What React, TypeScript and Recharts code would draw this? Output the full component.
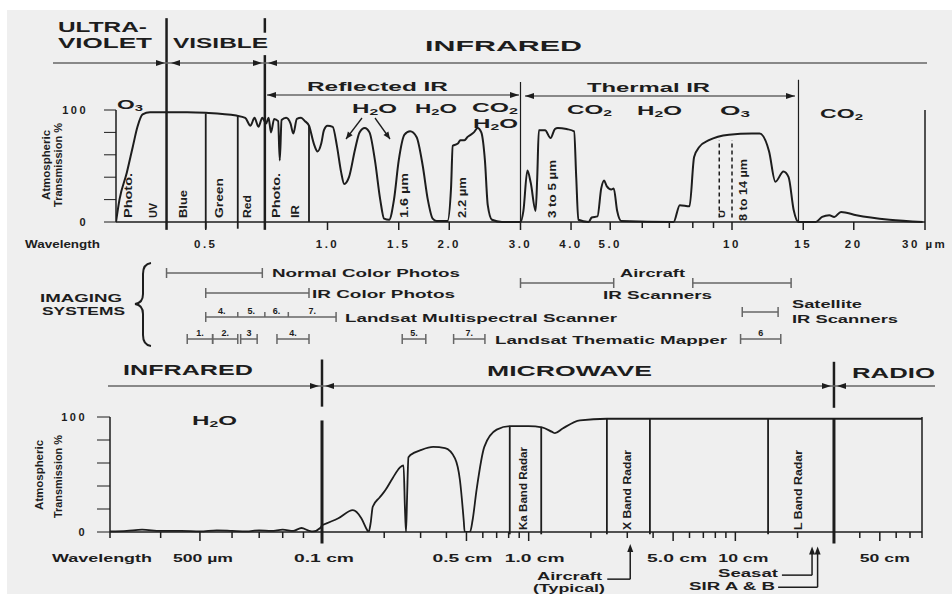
import React from 'react';
import { ComposedChart, Line, XAxis, YAxis, ReferenceLine, ReferenceDot } from 'recharts';

const INK = '#1d1d1d';
const GREY = '#666';
const FONT = '"Liberation Sans", Arial, Helvetica, sans-serif';

// ---------- top panel: atmospheric transmission 0.3 - 30 µm ----------
const topWavelength = [
  0.3, 0.306, 0.319, 0.33, 0.339, 0.349, 0.364, 0.45, 0.5, 0.595, 0.626, 0.645, 0.66, 0.675, 0.69, 0.705,
  0.715, 0.725, 0.738, 0.755, 0.762, 0.77, 0.79, 0.81, 0.823, 0.84, 0.86, 0.88, 0.9, 0.925, 0.945, 0.965,
  0.98, 1.0, 1.03, 1.055, 1.08, 1.1, 1.13, 1.17, 1.2, 1.236, 1.27, 1.31, 1.35, 1.38, 1.42, 1.46, 1.5, 1.55,
  1.6, 1.66, 1.72, 1.77, 1.82, 1.86, 1.98, 2.02, 2.04, 2.1, 2.13, 2.18, 2.22, 2.3, 2.35, 2.4, 2.45, 2.49,
  2.55, 2.7, 3.0, 3.05, 3.12, 3.18, 3.27, 3.3, 3.33, 3.45, 3.56, 3.65, 3.71, 3.9, 4.07, 4.12, 4.17, 4.42,
  4.5, 4.65, 4.75, 4.83, 4.9, 5.03, 5.1, 5.2, 5.32, 7.17, 7.43, 7.85, 8.06, 8.3, 8.77, 9.83, 11.2, 11.7,
  12.35, 12.8, 13.4, 13.8, 14.2, 14.6, 16.1, 16.7, 17.4, 17.9, 18.6, 20.3, 24.5, 29.6,
];
const topTransmission = [
  0, 20, 44, 67, 85, 96, 98, 98, 97.5, 95, 93, 86, 93, 85, 93, 88,
  93, 80, 92, 90, 55, 91, 93, 88, 79, 92, 93, 90, 86, 70, 63, 70,
  82, 86, 85, 68, 45, 34, 40, 65, 80, 84, 80, 55, 20, 3, 2, 20, 55, 78,
  81, 76, 50, 20, 3, 1, 1, 30, 68, 70, 73, 73, 76, 80, 84, 80, 55, 15,
  2, 0, 0, 10, 46, 35, 10, 40, 82, 82, 75, 83, 84, 83, 81, 40, 2, 0,
  4, 5, 30, 37, 32, 29, 30, 10, 1, 0, 15, 14, 58, 67, 73, 78, 79, 79,
  63, 36, 45, 40, 11, 0, 0, 4.5, 6, 4.5, 9, 6, 2, 0,
];
const topTicks = [0.5, 1, 1.5, 2, 3, 4, 5, 6, 7, 8, 9, 10, 15, 20, 30];
const topTickLabels = ['0.5', '1.0', '1.5', '2.0', '3.0', '4.0', '5.0', '', '', '', '', '10', '15', '20', '30 µm'];

// ---------- imaging systems (µm) ----------
const normalColorPhotos = [0.4, 0.69];
const irColorPhotos = [0.5, 0.9];
const mssEdges = [0.5, 0.6, 0.7, 0.8, 1.05];
const mssBandNames = ['4.', '5.', '6.', '7.'];
const tmBands = [[0.45, 0.52], [0.52, 0.6], [0.61, 0.67], [0.75, 0.9], [1.53, 1.75], [2.05, 2.45], [10.5, 13.2]];
const tmBandNames = ['1.', '2.', '3', '4.', '5.', '7.', '6'];
const aircraftIR = [[3.0, 5.1], [8.0, 14.0]];
const satelliteIR = [10.6, 13.0];

// ---------- bottom panel (cm) ----------
const farIrWavelength = [0.03, 0.033, 0.036, 0.04, 0.045, 0.05, 0.055, 0.06, 0.065, 0.07, 0.075, 0.08, 0.085, 0.089, 0.093, 0.095, 0.099, 0.1];
const farIrTransmission = [0.5, 1, 2, 1, 1, 0.5, 1.5, 1, 0.5, 1.5, 1, 2, 1, 3.5, 1, 0.5, 3.5, 6];
const microWavelength = [
  0.1, 0.12, 0.141, 0.155, 0.165, 0.168, 0.172, 0.176, 0.19, 0.202, 0.22, 0.238, 0.248, 0.252, 0.255, 0.258,
  0.262, 0.28, 0.298, 0.345, 0.394, 0.44, 0.465, 0.485, 0.49, 0.52, 0.535, 0.56, 0.61, 0.7, 0.81, 1.0, 1.16,
  1.3, 1.34, 1.46, 1.77, 2.39, 80,
];
const microTransmission = [
  6, 12, 19, 12, 2, 0, 8, 22, 30, 36, 47, 56, 58, 20, 0, 30,
  65, 69, 71, 74, 73, 64, 45, 10, 0, 0, 10, 37, 74, 89, 92, 92, 91,
  87, 86, 90, 97, 98.5, 98.5,
];
const farIrTicks = [0.03, 0.04, 0.05, 0.06, 0.07, 0.08, 0.09];
const farIrTickLabels = ['', '', '500 µm', '', '', '', ''];
const microTicks = [0.1, 0.2, 0.3, 0.4, 0.5, 0.6, 0.7, 0.8, 0.9, 1, 2, 3, 4, 5, 6, 7, 8, 9, 10, 20, 30, 40, 50, 60, 70, 80];
const microTickLabels = ['0.1 cm', '', '', '', '0.5 cm', '', '', '', '', '1.0 cm', '', '', '', '5.0 cm', '', '', '', '', '10 cm', '', '', '', '50 cm', '', '', ''];
const kaBand = [0.81, 1.15];
const xBand = [2.39, 3.86];
const lBand = [14.4, 30];
const aircraftRadar = 3.1;
const seasat = 23.5;
const sirAB = 25;

const zip = (xs: number[], ys: number[]) => xs.map((w, i) => ({ w, t: ys[i] }));
const topData = zip(topWavelength, topTransmission);
const farIrData = zip(farIrWavelength, farIrTransmission);
const microData = zip(microWavelength, microTransmission);

// lanes of the imaging-systems strip (px below its top)
const LANE = { normal: 18, aircraft: 28, irColor: 38, satellite: 57, mss: 62, tm: 84 };

// label nudges for the bottom axis (the scan's labels sit a little off their ticks)
const BOTTOM_NUDGE: Record<string, number> = { '500 µm': 3, '0.1 cm': 2, '0.5 cm': -4, '1.0 cm': 6, '5.0 cm': 4, '10 cm': 8, '50 cm': 5 };

const topTick = (props: any) => {
  const { x, y, payload } = props;
  const label = topTickLabels[topTicks.indexOf(payload.value)] || '';
  const tail = label === '30 µm';
  return (
    <g>
      <line x1={x} x2={x} y1={y} y2={y + (label ? 8 : 6)} stroke={INK} strokeWidth={1.5} />
      {label && (
        <text x={tail ? x - 23 : x} y={y + 26} textAnchor={tail ? 'start' : 'middle'} fontSize={11.5} fontWeight={700}
          fill={INK} style={{ letterSpacing: 2.5 }}>{label}</text>
      )}
    </g>
  );
};

const bottomTick = (ticks: number[], labels: string[]) => (props: any) => {
  const { x, y, payload } = props;
  const label = labels[ticks.indexOf(payload.value)] || '';
  return (
    <g>
      <line x1={x} x2={x} y1={y} y2={y + (label ? 9 : 6)} stroke={INK} strokeWidth={1.5} />
      {label && (
        <text x={x + (BOTTOM_NUDGE[label] || 0)} y={y + 30} textAnchor="middle" fontSize={11.5} fontWeight={700} fill={INK}
          textLength={label.length * 10} lengthAdjust="spacingAndGlyphs">{label}</text>
      )}
    </g>
  );
};

const capDot = (n: number) => (p: any) => {
  const { cx, cy, index } = p;
  const end = index === 0 || index === n - 1;
  return <line key={`c${index}`} x1={cx} x2={cx} y1={cy - 5} y2={end ? cy + 5 : cy} stroke={GREY} strokeWidth={1.5} />;
};

const arrowUp = (p: any) => <path d={`M${p.cx},${p.cy - 4} l-3,8 h6 z`} fill={INK} />;

const yTickFmt = (v: number) => (v === 0 || v === 100 ? String(v) : '');
const yTickStyle = { fontSize: 11, fontWeight: 700, fill: INK, style: { letterSpacing: 2.5 } };

function head(x1: number, y1: number, x2: number, y2: number, len = 9, half = 3) {
  const dx = x2 - x1, dy = y2 - y1, L = Math.hypot(dx, dy);
  const ux = dx / L, uy = dy / L;
  const bx = x2 - ux * len, by = y2 - uy * len;
  return `${x2},${y2} ${bx - uy * half},${by + ux * half} ${bx + uy * half},${by - ux * half}`;
}

function Txt({ x, y, w, size = 12, anchor = 'start', rot = false, children }: any) {
  return (
    <text x={x} y={y} fontSize={size} fontWeight={700} fill={INK} textAnchor={anchor} fontFamily={FONT}
      textLength={w} lengthAdjust={w ? 'spacingAndGlyphs' : undefined}
      transform={rot ? `rotate(-90 ${x} ${y})` : undefined}>{children}</text>
  );
}

function Chem({ x, y, w, size = 13, base, sub, tail = '' }: any) {
  return (
    <text x={x} y={y} fontSize={size} fontWeight={700} fill={INK} fontFamily={FONT} textLength={w} lengthAdjust="spacingAndGlyphs">
      {base}<tspan fontSize={size * 0.65} dy={size * 0.18}>{sub}</tspan>{tail && <tspan dy={-size * 0.18}>{tail}</tspan>}
    </text>
  );
}

function HArrow({ x1, x2, y, left, right, stroke = GREY }: any) {
  return (
    <g>
      <line x1={x1} x2={x2} y1={y} y2={y} stroke={stroke} strokeWidth={1.5} />
      {left && <polygon points={head(x2, y, x1, y)} fill={INK} />}
      {right && <polygon points={head(x1, y, x2, y)} fill={INK} />}
    </g>
  );
}

function Overlay() {
  return (
    <svg width={952} height={594} style={{ position: 'absolute', left: 0, top: 0, pointerEvents: 'none' }}>
      {/* spectral regions, top panel */}
      <Txt x={58} y={32} w={89} size={15}>ULTRA-</Txt>
      <Txt x={58} y={48} w={94} size={15}>VIOLET</Txt>
      <Txt x={173} y={48} w={95} size={15}>VISIBLE</Txt>
      <Txt x={425} y={51} w={157} size={15}>INFRARED</Txt>
      <line x1={53} x2={927} y1={63} y2={63} stroke={GREY} strokeWidth={1.5} />
      <polygon points={head(150, 63, 165, 63)} fill={INK} />
      <polygon points={head(186, 63, 171, 63)} fill={INK} />
      <polygon points={head(247, 63, 262, 63)} fill={INK} />
      <polygon points={head(283, 63, 268, 63)} fill={INK} />
      <Txt x={307} y={91} w={141} size={13}>Reflected IR</Txt>
      <HArrow x1={267} x2={519} y={95} left right />
      <Txt x={587} y={92} w={123} size={13}>Thermal IR</Txt>
      <HArrow x1={525} x2={795} y={96} left right />

      {/* absorbing gases */}
      <Chem x={117} y={109} w={26} base="O" sub="3" />
      <Chem x={352} y={113} w={45} base="H" sub="2" tail="O" />
      <Chem x={415} y={113} w={42} base="H" sub="2" tail="O" />
      <Chem x={472} y={112} w={46} base="CO" sub="2" />
      <Chem x={473} y={128} w={45} base="H" sub="2" tail="O" />
      <Chem x={567} y={114} w={45} base="CO" sub="2" />
      <Chem x={637} y={115} w={45} base="H" sub="2" tail="O" />
      <Chem x={720} y={115} w={30} base="O" sub="3" />
      <Chem x={820} y={118} w={43} base="CO" sub="2" />
      <line x1={362} y1={118} x2={346} y2={139} stroke={INK} strokeWidth={1.3} />
      <polygon points={head(362, 118, 346, 139, 7, 3)} fill={INK} />
      <line x1={375} y1={118} x2={390} y2={139} stroke={INK} strokeWidth={1.3} />
      <polygon points={head(375, 118, 390, 139, 7, 3)} fill={INK} />

      {/* band names inside the top plot */}
      <Txt x={132} y={218} w={45} size={11} rot>Photo.</Txt>
      <Txt x={157} y={218} w={15} size={11} rot>UV</Txt>
      <Txt x={187} y={218} w={28} size={11} rot>Blue</Txt>
      <Txt x={223} y={218} w={40} size={11} rot>Green</Txt>
      <Txt x={251} y={218} w={23} size={11} rot>Red</Txt>
      <Txt x={280} y={218} w={45} size={11} rot>Photo.</Txt>
      <Txt x={299} y={218} w={13} size={11} rot>IR</Txt>
      <Txt x={408} y={218} w={45} size={11} rot>1.6 µm</Txt>
      <Txt x={466} y={218} w={41} size={11} rot>2.2 µm</Txt>
      <Txt x={556} y={218} w={58} size={11} rot>3 to 5 µm</Txt>
      <Txt x={747} y={221} w={62} size={11} rot>8 to 14 µm</Txt>
      <Txt x={725} y={218} w={8} size={9} rot>U</Txt>

      {/* axis titles top */}
      <Txt x={50} y={200} w={70} size={10} rot>Atmospheric</Txt>
      <Txt x={62} y={207} w={84} size={10} rot>Transmission %</Txt>
      <Txt x={25} y={248} w={75} size={11}>Wavelength</Txt>

      {/* imaging systems */}
      <Txt x={40} y={302} w={82} size={11}>IMAGING</Txt>
      <Txt x={42} y={315} w={83} size={11}>SYSTEMS</Txt>
      <path d="M151,263 Q143,264 143,274 L143,294 Q143,303 135,304 Q143,305 143,314 L143,335 Q143,345 151,346" fill="none" stroke={INK} strokeWidth={2} />
      <Txt x={272} y={277} w={188} size={11}>Normal Color Photos</Txt>
      <Txt x={312} y={298} w={143} size={11}>IR Color Photos</Txt>
      <Txt x={345} y={322} w={272} size={11}>Landsat Multispectral Scanner</Txt>
      <Txt x={495} y={344} w={232} size={11}>Landsat Thematic Mapper</Txt>
      <Txt x={620} y={277} w={65} size={11}>Aircraft</Txt>
      <Txt x={603} y={299} w={109} size={11}>IR Scanners</Txt>
      <Txt x={792} y={308} w={70} size={11}>Satellite</Txt>
      <Txt x={792} y={323} w={106} size={11}>IR Scanners</Txt>

      {/* spectral regions, bottom panel */}
      <Txt x={123} y={375} w={130} size={14}>INFRARED</Txt>
      <Txt x={487} y={376} w={165} size={14}>MICROWAVE</Txt>
      <Txt x={852} y={378} w={83} size={14}>RADIO</Txt>
      <line x1={108} x2={935} y1={386} y2={386} stroke={GREY} strokeWidth={1.5} />
      <polygon points={head(305, 386, 319, 386)} fill={INK} />
      <polygon points={head(339, 386, 325, 386)} fill={INK} />
      <polygon points={head(817, 386, 831, 386)} fill={INK} />
      <polygon points={head(851, 386, 837, 386)} fill={INK} />
      <Chem x={192} y={425} w={45} base="H" sub="2" tail="O" />

      <Txt x={43} y={510} w={70} size={10} rot>Atmospheric</Txt>
      <Txt x={62} y={518} w={83} size={10} rot>Transmission %</Txt>
      <Txt x={52} y={562} w={100} size={11}>Wavelength</Txt>

      <Txt x={527} y={530} w={83} size={10.5} rot>Ka Band Radar</Txt>
      <Txt x={631} y={530} w={80} size={10.5} rot>X Band Radar</Txt>
      <Txt x={802} y={530} w={80} size={10.5} rot>L Band Radar</Txt>

      <Txt x={602} y={580} w={65} size={11} anchor="end">Aircraft</Txt>
      <Txt x={605} y={592} w={72} size={11} anchor="end">(Typical)</Txt>
      <Txt x={718} y={577} w={60} size={11}>Seasat</Txt>
      <Txt x={689} y={590} w={86} size={11}>SIR A &amp; B</Txt>
    </svg>
  );
}

export default function App() {
  return (
    <div style={{ position: 'relative', width: 952, height: 594, background: '#fff', overflow: 'hidden', fontFamily: FONT }}>
      <style>{'html,body{margin:0;padding:0;background:#fff}'}</style>
      <div style={{ position: 'absolute', left: 7, top: 10, width: 945, height: 584, background: '#efefef' }} />

      {/* top transmission panel */}
      <div style={{ position: 'absolute', left: 0, top: 0 }}>
        <ComposedChart width={952} height={262} margin={{ top: 110, right: 27, bottom: 10, left: 76 }}>
          <XAxis dataKey="w" type="number" scale="log" domain={[0.3, 30]} allowDataOverflow ticks={topTicks} interval={0}
            tickSize={0} tickMargin={0} tickLine={false} height={30} axisLine={{ stroke: INK, strokeWidth: 1.5 }}
            tick={topTick} />
          <YAxis domain={[0, 100]} ticks={[0, 20, 40, 60, 80, 100]} width={40} tickSize={12} tickMargin={16}
            tickFormatter={yTickFmt} tick={yTickStyle} axisLine={{ stroke: INK, strokeWidth: 1.5 }} tickLine={{ stroke: INK }} />
          <YAxis yAxisId="r" orientation="right" mirror domain={[0, 100]} ticks={[0, 20, 40, 60, 80, 100]} tickSize={12}
            tickFormatter={() => ''} axisLine={{ stroke: INK, strokeWidth: 1.5 }} tickLine={{ stroke: INK }} />

          <ReferenceLine ifOverflow="visible" segment={[{ x: 0.4, y: -7 }, { x: 0.4, y: 182 }]} stroke={INK} strokeWidth={2.5} />
          <ReferenceLine ifOverflow="visible" segment={[{ x: 0.7, y: -7 }, { x: 0.7, y: 149 }]} stroke={INK} strokeWidth={2.5} />
          <ReferenceLine ifOverflow="visible" segment={[{ x: 0.7, y: 169 }, { x: 0.7, y: 182 }]} stroke={INK} strokeWidth={2.5} />
          <ReferenceLine ifOverflow="visible" segment={[{ x: 0.5, y: -6 }, { x: 0.5, y: 97 }]} stroke={INK} strokeWidth={1.8} />
          <ReferenceLine ifOverflow="visible" segment={[{ x: 0.6, y: -6 }, { x: 0.6, y: 95 }]} stroke={INK} strokeWidth={1.8} />
          <ReferenceLine ifOverflow="visible" segment={[{ x: 0.9, y: 0 }, { x: 0.9, y: 86 }]} stroke={INK} strokeWidth={1.8} />
          <ReferenceLine ifOverflow="visible" segment={[{ x: 3.0, y: 0 }, { x: 3.0, y: 125 }]} stroke={INK} strokeWidth={1.2} />
          <ReferenceLine ifOverflow="visible" segment={[{ x: 14.6, y: 0 }, { x: 14.6, y: 127 }]} stroke={INK} strokeWidth={1.2} />
          <ReferenceLine segment={[{ x: 9.3, y: 4 }, { x: 9.3, y: 73 }]} stroke={INK} strokeWidth={1.5} strokeDasharray="4 3" />
          <ReferenceLine segment={[{ x: 10.0, y: 4 }, { x: 10.0, y: 73 }]} stroke={INK} strokeWidth={1.5} strokeDasharray="4 3" />

          <Line data={topData} dataKey="t" type="monotone" stroke={INK} strokeWidth={2} dot={false} isAnimationActive={false} />
        </ComposedChart>
      </div>

      {/* imaging systems strip */}
      <div style={{ position: 'absolute', left: 0, top: 255 }}>
        <ComposedChart width={952} height={95} margin={{ top: 0, right: 27, bottom: 0, left: 116 }}>
          <XAxis hide dataKey="w" type="number" scale="log" domain={[0.3, 30]} allowDataOverflow />
          <YAxis hide domain={[0, 95]} reversed allowDataOverflow />
          {[
            { id: 'normal', edges: normalColorPhotos, lane: LANE.normal },
            { id: 'ircolor', edges: irColorPhotos, lane: LANE.irColor },
            { id: 'mss', edges: mssEdges, lane: LANE.mss },
            { id: 'sat', edges: satelliteIR, lane: LANE.satellite },
            ...aircraftIR.map((e, i) => ({ id: `air${i}`, edges: e, lane: LANE.aircraft })),
            ...tmBands.map((e, i) => ({ id: `tm${i}`, edges: e, lane: LANE.tm })),
          ].map((b) => (
            <Line key={b.id} data={b.edges.map((w) => ({ w, lane: b.lane }))} dataKey="lane" type="linear" stroke={GREY}
              strokeWidth={1.5} dot={capDot(b.edges.length)} activeDot={false} isAnimationActive={false} />
          ))}
          {mssBandNames.map((name, i) => (
            <ReferenceDot key={`m${name}`} x={Math.sqrt(mssEdges[i] * mssEdges[i + 1])} y={LANE.mss} r={0} stroke="none" fill="none"
              label={{ value: name, position: 'top', offset: 3, fontSize: 9, fontWeight: 700, fill: INK }} />
          ))}
          {tmBandNames.map((name, i) => (
            <ReferenceDot key={`t${i}`} x={Math.sqrt(tmBands[i][0] * tmBands[i][1])} y={LANE.tm} r={0} stroke="none" fill="none"
              label={{ value: name, position: 'top', offset: 3, fontSize: 9, fontWeight: 700, fill: INK }} />
          ))}
        </ComposedChart>
      </div>

      {/* bottom panel, far infrared part (300 µm - 0.1 cm) */}
      <div style={{ position: 'absolute', left: 0, top: 350 }}>
        <ComposedChart width={952} height={244} margin={{ top: 67, right: 630, bottom: 32, left: 70 }}>
          <XAxis dataKey="w" type="number" scale="log" domain={[0.03, 0.1]} allowDataOverflow ticks={farIrTicks} interval={0}
            tickSize={0} tickMargin={0} tickLine={false} height={30} axisLine={{ stroke: INK, strokeWidth: 1.5 }}
            tick={bottomTick(farIrTicks, farIrTickLabels)} />
          <YAxis domain={[0, 100]} ticks={[0, 20, 40, 60, 80, 100]} width={40} tickSize={13} tickMargin={10}
            tickFormatter={yTickFmt} tick={yTickStyle} axisLine={{ stroke: INK, strokeWidth: 1.5 }} tickLine={{ stroke: INK }} />
          <Line data={farIrData} dataKey="t" type="monotone" stroke={INK} strokeWidth={1.8} dot={false} isAnimationActive={false} />
        </ComposedChart>
      </div>

      {/* bottom panel, microwave / radio part (0.1 - 80 cm) */}
      <div style={{ position: 'absolute', left: 0, top: 350 }}>
        <ComposedChart width={952} height={244} margin={{ top: 67, right: 30, bottom: 32, left: 322 }}>
          <XAxis dataKey="w" type="number" scale="log" domain={[0.1, 80]} allowDataOverflow ticks={microTicks} interval={0}
            tickSize={0} tickMargin={0} tickLine={false} height={30} axisLine={{ stroke: INK, strokeWidth: 1.5 }}
            tick={bottomTick(microTicks, microTickLabels)} />
          <YAxis hide domain={[0, 100]} allowDataOverflow />
          <YAxis yAxisId="r" orientation="right" mirror domain={[0, 100]} ticks={[0, 20, 40, 60, 80, 100]} tickSize={15}
            tickFormatter={() => ''} axisLine={{ stroke: INK, strokeWidth: 1.5 }} tickLine={{ stroke: INK }} />

          <ReferenceLine ifOverflow="visible" segment={[{ x: 0.1, y: -10 }, { x: 0.1, y: 97 }]} stroke={INK} strokeWidth={3} />
          <ReferenceLine ifOverflow="visible" segment={[{ x: 0.1, y: 109 }, { x: 0.1, y: 150 }]} stroke={INK} strokeWidth={2.5} />
          <ReferenceLine ifOverflow="visible" segment={[{ x: lBand[1], y: -10 }, { x: lBand[1], y: 99 }]} stroke={INK} strokeWidth={3} />
          <ReferenceLine ifOverflow="visible" segment={[{ x: lBand[1], y: 108 }, { x: lBand[1], y: 148 }]} stroke={INK} strokeWidth={2.5} />
          {kaBand.map((w) => (
            <ReferenceLine key={`ka${w}`} ifOverflow="visible" segment={[{ x: w, y: -2 }, { x: w, y: 91.5 }]} stroke={INK} strokeWidth={1.8} />
          ))}
          {xBand.map((w) => (
            <ReferenceLine key={`x${w}`} ifOverflow="visible" segment={[{ x: w, y: -2 }, { x: w, y: 98.5 }]} stroke={INK} strokeWidth={1.8} />
          ))}
          <ReferenceLine ifOverflow="visible" segment={[{ x: lBand[0], y: -2 }, { x: lBand[0], y: 98.5 }]} stroke={INK} strokeWidth={1.8} />

          {/* sensor call-outs below the axis */}
          <ReferenceLine ifOverflow="visible" segment={[{ x: aircraftRadar, y: -14 }, { x: aircraftRadar, y: -41 }]} stroke={INK} strokeWidth={1.5} />
          <ReferenceLine ifOverflow="visible" segment={[{ x: 2.4, y: -41 }, { x: aircraftRadar, y: -41 }]} stroke={INK} strokeWidth={1.5} />
          <ReferenceDot ifOverflow="visible" x={aircraftRadar} y={-14} r={3} shape={arrowUp} />
          <ReferenceLine ifOverflow="visible" segment={[{ x: seasat, y: -16 }, { x: seasat, y: -37.5 }]} stroke={INK} strokeWidth={1.5} />
          <ReferenceLine ifOverflow="visible" segment={[{ x: 16.8, y: -37.5 }, { x: seasat, y: -37.5 }]} stroke={INK} strokeWidth={1.5} />
          <ReferenceDot ifOverflow="visible" x={seasat} y={-16} r={3} shape={arrowUp} />
          <ReferenceLine ifOverflow="visible" segment={[{ x: sirAB, y: -16 }, { x: sirAB, y: -48 }]} stroke={INK} strokeWidth={1.5} />
          <ReferenceLine ifOverflow="visible" segment={[{ x: 16.1, y: -48 }, { x: sirAB, y: -48 }]} stroke={INK} strokeWidth={1.5} />
          <ReferenceDot ifOverflow="visible" x={sirAB} y={-16} r={3} shape={arrowUp} />

          <Line data={microData} dataKey="t" type="monotone" stroke={INK} strokeWidth={1.8} dot={false} isAnimationActive={false} />
        </ComposedChart>
      </div>

      <Overlay />
    </div>
  );
}
